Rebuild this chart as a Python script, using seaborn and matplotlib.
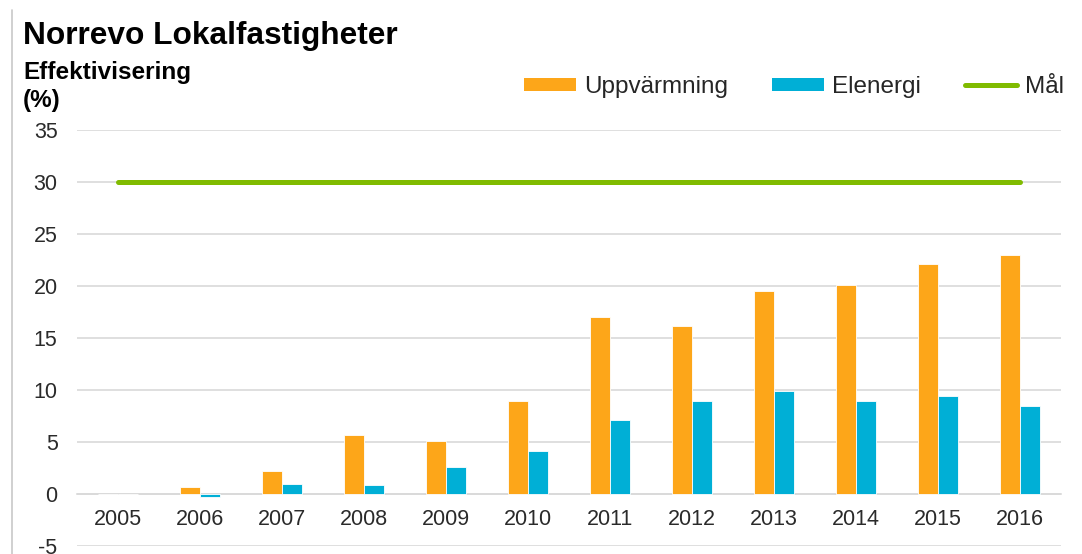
import numpy as np
import pandas as pd
import matplotlib
matplotlib.use("Agg")
import matplotlib.pyplot as plt
from matplotlib.lines import Line2D
from matplotlib.patches import Patch
import seaborn as sns

years = ["2005", "2006", "2007", "2008", "2009", "2010", "2011", "2012", "2013", "2014", "2015", "2016"]
uppvarmning = [0.0, 0.7, 2.2, 5.7, 5.1, 8.9, 17.0, 16.2, 19.5, 20.1, 22.1, 23.0]
elenergi = [0.0, -0.3, 1.0, 0.9, 2.6, 4.1, 7.1, 8.9, 9.9, 8.9, 9.4, 8.5]
mal = [30, 30, 30, 30, 30, 30, 30, 30, 30, 30, 30, 30]
series_names = ["Uppvärmning", "Elenergi", "Mål"]
yticks = [-5, 0, 5, 10, 15, 20, 25, 30, 35]

ORANGE = "#FDA619"
BLUE = "#00AFD6"
GREEN = "#80BB00"
GRID = "#D9D9D9"
TXT = "#2A2A2A"

sns.set_theme(style="white")
plt.rcParams["font.family"] = ["Liberation Sans", "DejaVu Sans"]

df = pd.DataFrame({
    "year": years * 2,
    "value": uppvarmning + elenergi,
    "serie": [series_names[0]] * len(years) + [series_names[1]] * len(years),
})

fig = plt.figure(figsize=(10.82, 5.54), dpi=100)
ax = fig.add_axes([77 / 1082, 1 - 546 / 554, (1061 - 77) / 1082, (546 - 130) / 554])

sns.barplot(data=df, x="year", y="value", hue="serie", order=years,
            hue_order=series_names[:2], palette=[ORANGE, BLUE], saturation=1,
            width=0.49, gap=0, edgecolor="white", linewidth=0.6, ax=ax,
            legend=False, errorbar=None, zorder=3)

xpos = np.arange(len(years))
sns.lineplot(x=xpos, y=mal, color=GREEN, linewidth=3.6, ax=ax,
             solid_capstyle="round", zorder=4)

ax.set_xlim(-0.5, len(years) - 0.5)
ax.set_ylim(-5, 35)
ax.set_yticks(yticks)
ax.set_yticklabels([str(t) for t in yticks])
ax.set_xticks(xpos)
ax.set_xticklabels(years)
ax.grid(axis="y", color=GRID, linewidth=1.2, zorder=0)
ax.grid(axis="x", visible=False)
for s in ["top", "right", "left"]:
    ax.spines[s].set_visible(False)
ax.spines["bottom"].set_position(("data", 0))
ax.spines["bottom"].set_color(GRID)
ax.spines["bottom"].set_linewidth(1.2)
ax.tick_params(axis="x", length=0, pad=11, labelsize=15.5, labelcolor=TXT)
ax.tick_params(axis="y", length=0, pad=14, labelsize=15.5, labelcolor=TXT)
ax.set_xlabel("")
ax.set_ylabel("")

fig.text(23 / 1082, 1 - 36 / 554, "Norrevo Lokalfastigheter", fontsize=22.8,
         fontweight="bold", color="black", va="center", ha="left")
fig.text(23 / 1082, 1 - 73 / 554, "Effektivisering", fontsize=17.5,
         fontweight="bold", color="black", va="center", ha="left")
fig.text(23 / 1082, 1 - 101 / 554, "(%)", fontsize=17.5,
         fontweight="bold", color="black", va="center", ha="left")

handles = [Patch(facecolor=ORANGE, edgecolor="none"),
           Patch(facecolor=BLUE, edgecolor="none"),
           Line2D([0], [0], color=GREEN, linewidth=3.6, solid_capstyle="round")]
fig.legend(handles, series_names, loc="center right",
           bbox_to_anchor=(1064 / 1082, 1 - 87 / 554), ncol=3, frameon=False,
           fontsize=17.5, handlelength=2.15, handleheight=0.45, handletextpad=0.33,
           columnspacing=1.8, borderaxespad=0, borderpad=0)

fig.add_artist(Line2D([12 / 1082, 12 / 1082], [0, 1 - 10 / 554],
                      color="#C8C8C8", linewidth=1.2, transform=fig.transFigure))

fig.savefig("out.png", dpi=100)
